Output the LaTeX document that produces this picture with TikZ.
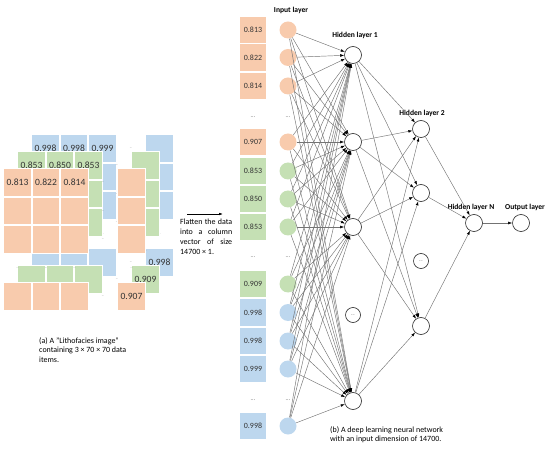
\documentclass[tikz,border=0pt]{standalone}
\usepackage{fontspec}
\setmainfont{Carlito}
\usetikzlibrary{arrows.meta}
\definecolor{cOr}{RGB}{248,203,173}
\definecolor{cGr}{RGB}{197,224,180}
\definecolor{cBl}{RGB}{189,215,238}
\newcommand{\tilelayer}[8]{%
  \foreach \c in {0,1,2,4}{\foreach \r in {0,1,2,4}{%
    \node[tile,fill=#3] (#4\c\r) at ({#1+13.5+\c*28.5},{#2+13.5+\r*28.5}) {};}}
  \node[tval] (#4t0) at (#400) {#5};
  \node[tval] (#4t1) at (#410) {#6};
  \node[tval] (#4t2) at (#420) {#7};
  \node[tval] (#4t4) at (#444) {#8};
  \foreach \r in {0,1,2,4}{\node[tdots] (#4h\r) at ({#1+99},{#2+13.5+\r*28.5}) {...};}
  \foreach \c in {0,1,2,4}{\node[tdots] (#4v\c) at ({#1+13.5+\c*28.5},{#2+99}) {...};}
}
\begin{document}
\begin{tikzpicture}[x=1bp,y=-1bp,
  tile/.style={draw=white,line width=1.2bp,minimum size=27.5bp,inner sep=0pt},
  tval/.style={font=\fontsize{9.6}{10}\selectfont,text=black!80,inner sep=0pt},
  tdots/.style={font=\fontsize{3}{3}\selectfont,text=black!60,inner sep=0pt},
  vbox/.style={draw=white,line width=1.2bp,minimum width=28bp,minimum height=27.5bp,inner sep=0pt,font=\fontsize{8}{9}\selectfont,text=black!80},
  incirc/.style={circle,minimum size=17bp,inner sep=0pt},
  hcirc/.style={circle,draw=black!85,line width=0.6bp,minimum size=17bp,inner sep=0pt,fill=white},
  dcirc/.style={circle,draw=black!85,line width=0.6bp,minimum size=15bp,inner sep=0pt,font=\fontsize{4}{4}\selectfont},
  cdots/.style={font=\fontsize{6}{6}\selectfont,text=black!60,inner sep=0pt},
  lbl/.style={font=\bfseries\fontsize{7.6}{9}\selectfont,inner sep=0pt},
  captxt/.style={font=\fontsize{8}{10}\selectfont,inner sep=0pt,align=left,anchor=north west},
  edge/.style={draw=black!55,line width=0.45bp,-{Latex[length=4bp,width=2.8bp,color=black]}},
]
\useasboundingbox (0,0) rectangle (550,451);
% left: three tile layers
\tilelayer{32}{135}{cBl}{bl}{0.998}{0.998}{0.999}{0.998}
\tilelayer{18}{152}{cGr}{gr}{0.853}{0.850}{0.853}{0.909}
\tilelayer{4}{169}{cOr}{or}{0.813}{0.822}{0.814}{0.907}
\node[captxt] (capa) at (39,337) {(a) A "Lithofacies image"\\containing 3 × 70 × 70 data\\items.};
% flatten arrow
\coordinate (fa) at (187,214);
\coordinate (fb) at (223,214);
\draw[line width=0.6bp,-{Latex[length=4bp,width=2.6bp]}] (fa) -- (fb);
\node[captxt,text width=52bp,align=justify] (ft) at (180,219) {Flatten the data\linebreak into a column\linebreak vector of size\linebreak 14700 × 1.};
% input column
\foreach \y/\c/\t [count=\i] in {30/cOr/0.813, 57.5/cOr/0.822, 86/cOr/0.814, 142/cOr/0.907, 171/cGr/0.853, 199/cGr/0.850, 227/cGr/0.853, 284/cGr/0.909, 312.5/cBl/0.998, 341/cBl/0.998, 369/cBl/0.999, 426/cBl/0.998}{
  \node[vbox,fill=\c] (v\i) at (253,\y) {\t};
  \node[incirc,fill=\c] (in\i) at (288,\y) {};
}
\foreach \y [count=\k] in {117,257,400}{
  \node[cdots] (vd\k) at (253,\y) {...};
  \node[cdots] (id\k) at (288,\y) {...};
}
\node[lbl] (linput) at (291,10) {Input layer};
% hidden layers
\node[hcirc] (ha1) at (353,55) {};
\node[hcirc] (ha2) at (353,142) {};
\node[hcirc] (ha3) at (353,227) {};
\node[hcirc] (ha4) at (353,401) {};
\node[dcirc] (had) at (353,315) {...};
\node[hcirc] (hb1) at (421,129) {};
\node[hcirc] (hb2) at (421,193) {};
\node[hcirc] (hb3) at (421,326) {};
\node[dcirc] (hbd) at (421,261) {...};
\node[hcirc] (hn) at (474,223) {};
\node[hcirc] (out) at (521,223) {};
\node[lbl] (lh1) at (355,35) {Hidden layer 1};
\node[lbl] (lh2) at (422,113) {Hidden layer 2};
\node[lbl] (lhn) at (471,207) {Hidden layer N};
\node[lbl] (lout) at (525,207) {Output layer};
% edges
\foreach \i in {1,...,12}{\foreach \h in {1,2,3,4}{\draw[edge] (in\i) -- (ha\h);}}
\foreach \a in {1,...,4}{\foreach \b in {1,2,3}{\draw[edge] (ha\a) -- (hb\b);}}
\foreach \b in {1,2,3}{\draw[edge] (hb\b) -- (hn);}
\draw[edge] (hn) -- (out);
\node[captxt] (capb) at (330,426) {(b) A deep learning neural network\\with an input dimension of 14700.};
\end{tikzpicture}
\end{document}
